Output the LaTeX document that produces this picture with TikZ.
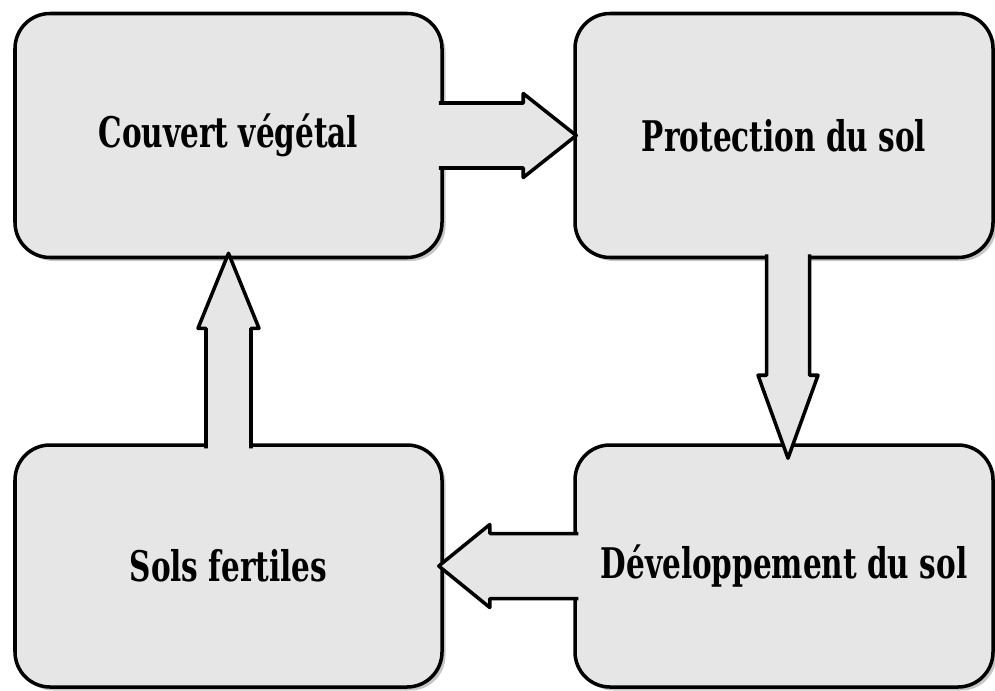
\documentclass[tikz,border=0pt]{standalone}
\usepackage{fontspec}
\setmainfont{DejaVu Serif}[FakeStretch=0.7]
\usetikzlibrary{calc,shadows}

\definecolor{boxgray}{RGB}{230,230,230}

\tikzset{
    etape/.style={draw=black, line width=2pt, fill=boxgray, rounded corners=0.7cm,
        minimum width=8.54cm, minimum height=4.88cm, inner sep=0pt,
        font=\bfseries\fontsize{24}{28}\selectfont,
        drop shadow={shadow xshift=0.07cm, shadow yshift=-0.07cm, opacity=0.45}},
    fleche/.style={draw=black, line width=2pt, fill=boxgray, line join=round}
}

\begin{document}
\begin{tikzpicture}
    \useasboundingbox (0,0) rectangle (19.9,-13.8);

    \node[etape] (couvert) at (4.57,-2.71) {Couvert végétal};
    \node[etape, minimum width=8.36cm] (protection) at (15.68,-2.71) {Protection du sol};
    \node[etape, minimum width=8.36cm, minimum height=4.84cm] (developpement) at (15.68,-11.32) {Développement du sol};
    \node[etape, minimum height=4.84cm] (sols) at (4.57,-11.32) {Sols fertiles};

    % couvert -> protection
    \draw[fleche] ($(couvert.east)+(-0.1,0.65)$) -- ($(protection.west)+(-1.0,0.65)$)
        -- ($(protection.west)+(-1.0,0.84)$) -- ($(protection.west)+(0.06,0)$)
        -- ($(protection.west)+(-1.0,-0.84)$) -- ($(protection.west)+(-1.0,-0.65)$)
        -- ($(couvert.east)+(-0.1,-0.65)$);

    % protection -> developpement
    \draw[fleche] ($(protection.south)+(0.51,0.1)$) -- ($(developpement.north)+(0.51,1.36)$)
        -- ($(developpement.north)+(0.68,1.36)$) -- ($(developpement.north)+(0.08,-0.3)$)
        -- ($(developpement.north)+(-0.52,1.36)$) -- ($(developpement.north)+(-0.35,1.36)$)
        -- ($(protection.south)+(-0.35,0.1)$);

    % developpement -> sols
    \draw[fleche] ($(developpement.west)+(0.1,0.65)$) -- ($(sols.east)+(0.92,0.65)$)
        -- ($(sols.east)+(0.92,0.83)$) -- ($(sols.east)+(-0.1,0)$)
        -- ($(sols.east)+(0.92,-0.83)$) -- ($(sols.east)+(0.92,-0.65)$)
        -- ($(developpement.west)+(0.1,-0.65)$);

    % sols -> couvert
    \draw[fleche] ($(sols.north)+(0.45,-0.1)$) -- ($(couvert.south)+(0.45,-1.38)$)
        -- ($(couvert.south)+(0.61,-1.38)$) -- ($(couvert.south)+(0,0.12)$)
        -- ($(couvert.south)+(-0.61,-1.38)$) -- ($(couvert.south)+(-0.45,-1.38)$)
        -- ($(sols.north)+(-0.45,-0.1)$);
\end{tikzpicture}
\end{document}
